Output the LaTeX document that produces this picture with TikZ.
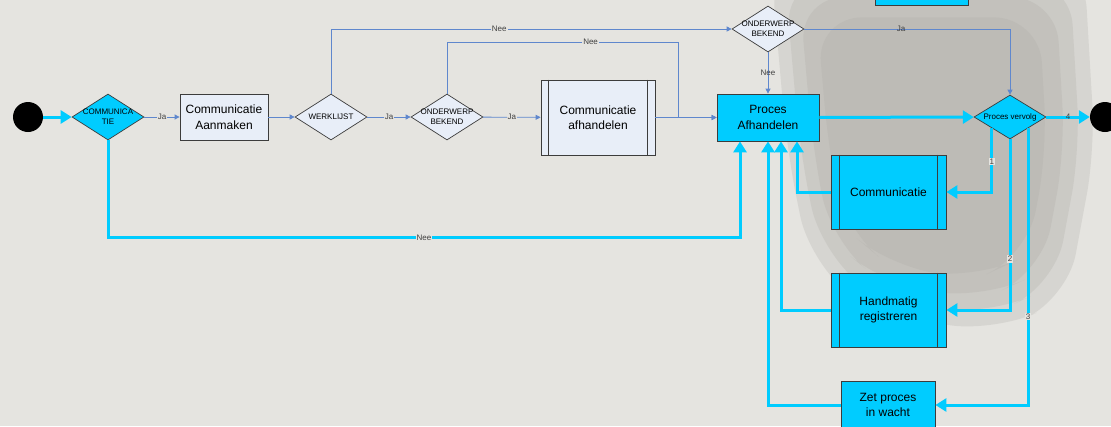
\documentclass[tikz,border=0pt]{standalone}
\usepackage{fontspec}
\setmainfont{Liberation Sans}
\usetikzlibrary{arrows.meta, positioning, shapes.geometric}

\definecolor{procblue}{RGB}{0,204,255}
\definecolor{lineblue}{RGB}{95,135,205}
\definecolor{lightfill}{RGB}{232,238,248}
\definecolor{edgegrey}{RGB}{60,60,60}
\definecolor{bggrey}{RGB}{229,228,224}
\definecolor{photogrey}{RGB}{172,170,165}

\begin{document}
\begin{tikzpicture}[
    x=1pt, y=-1pt,
    box/.style={draw=edgegrey, rectangle, line width=0.8pt, align=center, inner sep=0pt, font=\fontsize{12}{15.5}\selectfont},
    lightbox/.style={box, fill=lightfill},
    procbox/.style={box, fill=procblue},
    choice/.style={draw=edgegrey, diamond, line width=0.7pt, inner sep=0pt, minimum width=72pt, minimum height=46pt},
    choicetext/.style={align=center, font=\fontsize{8}{10}\selectfont},
    dot/.style={circle, fill=black, minimum size=30pt, inner sep=0pt},
    flow/.style={draw=lineblue, line width=0.8pt, -{Triangle[length=5pt, width=5pt]}},
    bigflow/.style={draw=procblue, line width=3pt, -{Triangle[length=11pt, width=13pt]}},
    lbl/.style={font=\fontsize{8}{9}\selectfont, text=black!75, fill=bggrey, inner sep=1pt}
]

% Achtergrond
\clip (0,0) rectangle (1111,426);
\fill[bggrey] (0,0) rectangle (1111,426);
\foreach \s in {1.1, 1.0, 0.9, 0.78}
    \fill[photogrey, opacity=0.25, rounded corners=45pt, shift={(930,150)}, scale=\s]
        (-145,-170) -- (140,-170) -- (150,0) -- (125,135) -- (60,165)
        -- (-50,150) -- (-110,100) -- (-130,0) -- cycle;

% Start en einde
\node[dot] (begin) at (28,117) {};
\node[dot] (end) at (1105,117) {};

% Beslissingen
\node[choice, fill=procblue, label={[choicetext]center:{COMMUNICA\\TIE}}] (comm) at (108,117) {};
\node[choice, fill=lightfill, label={[choicetext]center:WERKLIJST}] (werklijst) at (331,117) {};
\node[choice, fill=lightfill, label={[choicetext]center:{ONDERWERP\\BEKEND}}] (bekend1) at (447,117) {};
\node[choice, fill=lightfill, label={[choicetext]center:{ONDERWERP\\BEKEND}}] (bekend2) at (768,29) {};
\node[choice, fill=procblue, minimum height=44pt, label={[choicetext]center:Proces vervolg}] (vervolg) at (1010,117) {};

% Stappen
\node[lightbox, minimum width=88pt, minimum height=46pt] (aanmaken) at (224,117) {Communicatie\\Aanmaken};
\node[lightbox, minimum width=114pt, minimum height=75pt] (afhandelen) at (598,117.5) {Communicatie\\afhandelen};
\node[procbox, minimum width=102pt, minimum height=47pt] (proces) at (768,117.5) {Proces\\Afhandelen};
\node[procbox, minimum width=115pt, minimum height=74pt] (comm2) at (888.5,192) {Communicatie};
\node[procbox, minimum width=115pt, minimum height=74pt] (handmatig) at (888.5,310) {Handmatig\\registreren};
\node[procbox, minimum width=94pt, minimum height=48pt] (wacht) at (888,405) {Zet proces\\in wacht};
\node[procbox, minimum width=93pt, minimum height=30pt] (topbox) at (921.5,-10) {};

% Deelprocessen
\foreach \n/\d in {afhandelen/8pt, comm2/9pt, handmatig/9pt}
    \draw[edgegrey, line width=0.8pt] ([xshift=\d]\n.north west) -- ([xshift=\d]\n.south west)
        ([xshift=-\d]\n.north east) -- ([xshift=-\d]\n.south east);

% Dunne verbindingen
\draw[flow] (comm) -- node[lbl]{Ja} (aanmaken);
\draw[flow] (aanmaken) -- (werklijst);
\draw[flow] (werklijst) -- node[lbl]{Ja} (bekend1);
\draw[flow] (bekend1) -- node[lbl]{Ja} (afhandelen);
\draw[flow] (afhandelen) -- (proces);
\draw[flow] (werklijst.north) |- node[lbl, pos=0.71]{Nee} (bekend2.west);
\draw[flow] (bekend1.north) |- node[lbl, pos=0.81]{Nee} ([xshift=-38pt]proces.north west |- 0,42) |- (proces.west);
\draw[flow] (bekend2.south) -- node[lbl, fill=none]{Nee} (proces.north);
\draw[flow] (bekend2.east) -| node[lbl, fill=none, pos=0.235]{Ja} (vervolg.north);

% Dikke verbindingen
\draw[bigflow] (begin) -- (comm);
\draw[bigflow] (proces) -- (vervolg);
\draw[bigflow] (vervolg) -- node[lbl, fill=none]{4} (end);
\draw[bigflow] (comm.south) -- ++(0,97) -| node[lbl, pos=0.25]{Nee} ([xshift=-28pt]proces.south);
\draw[bigflow] (vervolg.south west) |- node[lbl, pos=0.26]{1} (comm2.east);
\draw[bigflow] (vervolg.south) |- node[lbl, pos=0.35]{2} (handmatig.east);
\draw[bigflow] (vervolg.south east) |- node[lbl, pos=0.34]{3} (wacht.east);
\draw[bigflow] (comm2.west) -| ([xshift=29pt]proces.south);
\draw[bigflow] (handmatig.west) -| ([xshift=13pt]proces.south);
\draw[bigflow] (wacht.west) -| (proces.south);

\end{tikzpicture}
\end{document}
